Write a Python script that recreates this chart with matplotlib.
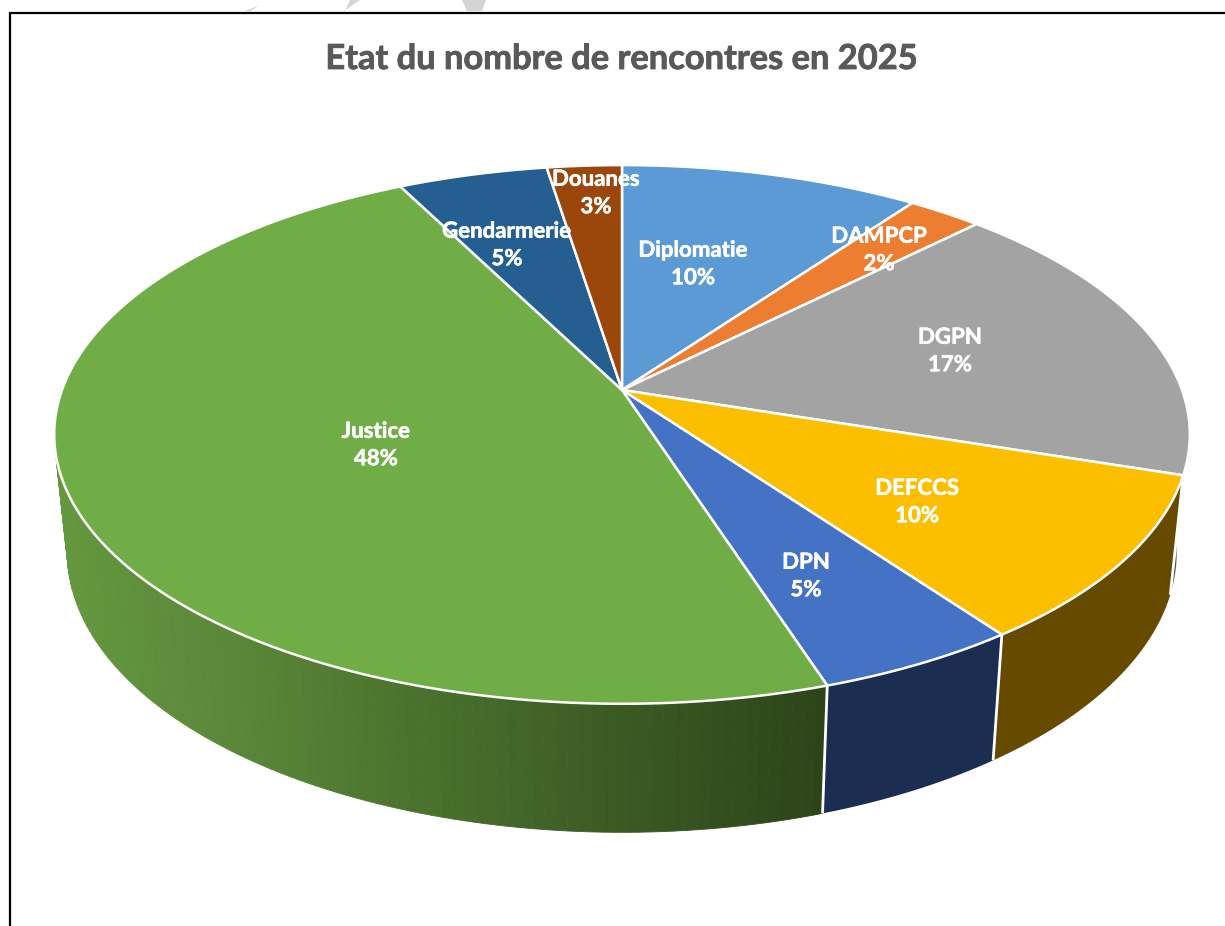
import matplotlib
matplotlib.use('Agg')
import matplotlib.pyplot as plt
import matplotlib.patheffects as pe
import numpy as np

# donnees
services = ['Diplomatie', 'DAMPCP', 'DGPN', 'DEFCCS', 'DPN', 'Justice', 'Gendarmerie', 'Douanes']
rencontres = [4, 1, 7, 4, 2, 19, 2, 1]
pourcents = ['10%', '2%', '17%', '10%', '5%', '48%', '5%', '3%']
titre = 'Etat du nombre de rencontres en 2025'

couleurs = ['#5b9ad5', '#ed7d31', '#a3a3a3', '#fcbf00', '#4472c4', '#70ad47', '#255e91', '#9b470c']
couleurs_cote = ['#2c4d6c', '#773d18', '#555558', '#654a00', '#1b2d50', '#5a8a38', '#13304a', '#4f2407']
# position du centre de chaque etiquette (pixels)
pos_x = [693, 879, 950, 917, 806, 376, 507, 596]
pos_y = [264, 250, 351, 502, 576, 445, 245, 193]

plt.rcParams['font.family'] = ['Lato', 'DejaVu Sans']

fig = plt.figure(figsize=(12.25, 9.26), dpi=100)
ax = fig.add_axes([0, 0, 1, 1])
ax.set_xlim(0, 1225)
ax.set_ylim(926, 0)
ax.axis('off')

# perspective du disque
cx, cy = 622, 390
a, b, k = 262, 560, 0.165


def haut(t):
    u, v = np.sin(t), np.cos(t)
    return cx + b * u / (1 + k * v), cy - a * v / (1 + k * v)


def bas(t):
    x, y = haut(t)
    return cx + (x - cx) * 0.977, cy + (y - cy) * 1.04 + 116


# degrade du cote vert, selon x
grad_x = [60, 240, 400, 600, 820]
grad_r = [100, 90, 76, 60, 45]
grad_g = [152, 135, 116, 92, 68]
grad_b = [62, 57, 46, 36, 25]

bords = np.radians(np.concatenate([[0], np.cumsum(rencontres)]) / sum(rencontres) * 360)

# cotes
for i in range(len(services)):
    t0, t1 = max(bords[i], np.radians(80)), min(bords[i + 1], np.radians(285))
    if t1 <= t0:
        continue
    if services[i] == 'Justice':
        pas = np.linspace(t0, t1, 120)
        for p, q in zip(pas[:-1], pas[1:]):
            tt = np.array([p, q])
            x1, y1 = haut(tt)
            x2, y2 = bas(tt)
            xm = x2.mean()
            c = (np.interp(xm, grad_x, grad_r) / 255, np.interp(xm, grad_x, grad_g) / 255,
                 np.interp(xm, grad_x, grad_b) / 255)
            ax.fill(np.r_[x1, x2[::-1]], np.r_[y1, y2[::-1]], color=c, lw=0.6, zorder=2)
    else:
        tt = np.linspace(t0, t1, 60)
        x1, y1 = haut(tt)
        x2, y2 = bas(tt)
        ax.fill(np.r_[x1, x2[::-1]], np.r_[y1, y2[::-1]], color=couleurs_cote[i], lw=0, zorder=2)

# separations blanches sur le cote
for t in bords:
    if np.radians(100) < t < np.radians(265):
        x1, y1 = haut(t)
        x2, y2 = bas(t)
        ax.plot([x1, x2], [y1, y2], color='white', lw=2, zorder=3, solid_capstyle='butt')

# dessus du camembert
for i in range(len(services)):
    tt = np.linspace(bords[i], bords[i + 1], 200)
    x, y = haut(tt)
    ax.fill(np.r_[cx, x], np.r_[cy, y], facecolor=couleurs[i], edgecolor='white', lw=1.8,
            joinstyle='round', zorder=4)

# etiquettes
for i in range(len(services)):
    t = ax.text(pos_x[i], pos_y[i], services[i] + '\n' + pourcents[i], color='white', fontsize=16,
                fontweight='bold', ha='center', va='center', linespacing=1.38, zorder=6)
    t.set_path_effects([pe.withStroke(linewidth=0.4, foreground='white')])

t = ax.text(622, 59, titre, color='#595959', fontsize=24.8, fontweight='bold', ha='center', va='center')
t.set_path_effects([pe.withStroke(linewidth=0.6, foreground='#595959')])

# cadre du graphique et restes du filigrane en haut
ax.plot([9.5, 9.5, 1225], [926, 12.5, 12.5], color='black', lw=1.6, zorder=7, solid_joinstyle='miter')
for fx, fy in [([245, 260, 250], [11, 5, 11]), ([344, 360, 350, 345], [11, 0, 0, 11]),
               ([467, 462, 486, 482, 474], [11, 0, 0, 11, 11])]:
    ax.fill(fx, fy, color='#d4d4d4', lw=0, zorder=1)

fig.savefig('out.png', dpi=100, facecolor='white')
